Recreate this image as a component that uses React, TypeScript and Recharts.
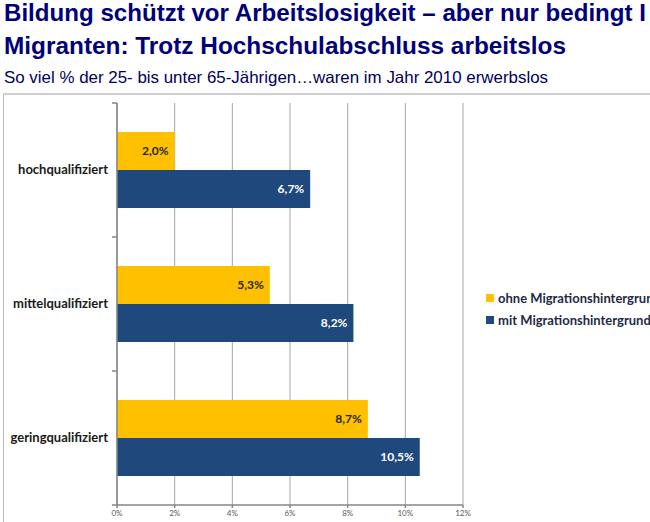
import React from 'react';
import { BarChart, Bar, XAxis, YAxis, CartesianGrid, LabelList } from 'recharts';

const categories = ['hochqualifiziert', 'mittelqualifiziert', 'geringqualifiziert'];
const ohneValues = [2.0, 5.3, 8.7];
const mitValues = [6.7, 8.2, 10.5];
const xTicks = [0, 2, 4, 6, 8, 10, 12];
const seriesNames = ['ohne Migrationshintergrund', 'mit Migrationshintergrund'];
const title1 = 'Bildung schützt vor Arbeitslosigkeit – aber nur bedingt I';
const title2 = 'Migranten: Trotz Hochschulabschluss arbeitslos';
const subtitle = 'So viel % der 25- bis unter 65-Jährigen…waren im Jahr 2010 erwerbslos';

const data = categories.map((c, i) => ({ name: c, ohne: ohneValues[i], mit: mitValues[i] }));

const ORANGE = '#FFC000';
const BLUE = '#1F497D';
const FONT = 'Lato, "Open Sans", sans-serif';

const fmt = (v: any) => `${Number(v).toFixed(1).replace('.', ',')}%`;

const PLOT_TOP = 103;
const PLOT_BOTTOM = 505;
const BAND = (PLOT_BOTTOM - PLOT_TOP) / categories.length;

const CatTick = (props: any) => {
  const { x, y, payload, index } = props;
  return (
    <g>
      <text x={x - 1} y={y} dy={4} textAnchor="end" fontFamily={FONT} fontWeight={700} fontSize={13} fill="#1a1a1a">
        {payload.value}
      </text>
      <line x1={x + 3} x2={x + 8} y1={y - BAND / 2} y2={y - BAND / 2} stroke="#868686" strokeWidth={1.5} />
      {index === categories.length - 1 ? (
        <line x1={x + 3} x2={x + 8} y1={y + BAND / 2} y2={y + BAND / 2} stroke="#868686" strokeWidth={1.5} />
      ) : null}
    </g>
  );
};

export default function App() {
  return (
    <div style={{ position: 'absolute', left: 0, top: 0, width: 650, height: 522, overflow: 'hidden', background: '#fff' }}>
      <svg width={650} height={92} style={{ position: 'absolute', left: 0, top: 0 }}>
        <text x={4} y={21} fontFamily="'Liberation Sans', Arial, sans-serif" fontWeight={700} fontSize={23} fill="#00007A" textLength={642} lengthAdjust="spacingAndGlyphs">
          {title1}
        </text>
        <text x={4} y={54} fontFamily="'Liberation Sans', Arial, sans-serif" fontWeight={700} fontSize={23} fill="#00007A" textLength={562} lengthAdjust="spacingAndGlyphs">
          {title2}
        </text>
        <text x={4} y={83} fontFamily="'Liberation Sans', Arial, sans-serif" fontSize={16.5} fill="#00005A" textLength={544} lengthAdjust="spacingAndGlyphs">
          {subtitle}
        </text>
      </svg>
      <div style={{ position: 'absolute', left: 3, top: 93, width: 660, height: 440, borderTop: '2px solid #cfcfcf', borderLeft: '1px solid #bdbdbd' }} />
      <div style={{ position: 'absolute', left: 0, top: 0 }}>
        <BarChart
          width={650}
          height={522}
          data={data}
          layout="vertical"
          margin={{ top: PLOT_TOP, right: 187, bottom: 0, left: 0 }}
          barGap={0}
        >
          <CartesianGrid horizontal={false} vertical={true} stroke="#a6a6a6" strokeWidth={1} />
          <XAxis
            type="number"
            domain={[0, 12]}
            ticks={xTicks}
            tickFormatter={(v: any) => `${v}%`}
            height={17}
            tickSize={3}
            stroke="#868686"
            strokeWidth={1.5}
            tick={{ fontSize: 8, fill: '#595959', fontFamily: FONT }}
            interval={0}
          />
          <YAxis
            type="category"
            dataKey="name"
            width={117}
            tickLine={false}
            stroke="#868686"
            strokeWidth={1.5}
            tick={<CatTick />}
            interval={0}
          />
          <Bar dataKey="ohne" fill={ORANGE} barSize={38} isAnimationActive={false}>
            <LabelList dataKey="ohne" position="insideRight" offset={6} formatter={fmt} style={{ fontFamily: FONT, fontWeight: 700, fontSize: 12, fill: '#262626' }} />
          </Bar>
          <Bar dataKey="mit" fill={BLUE} barSize={38} isAnimationActive={false}>
            <LabelList dataKey="mit" position="insideRight" offset={6} formatter={fmt} style={{ fontFamily: FONT, fontWeight: 700, fontSize: 12, fill: '#ffffff' }} />
          </Bar>
        </BarChart>
      </div>
      <div style={{ position: 'absolute', left: 486, top: 287, fontFamily: FONT, fontWeight: 700, fontSize: 13, color: '#1F2A44', whiteSpace: 'nowrap' }}>
        {seriesNames.map((n, i) => (
          <div key={n} style={{ display: 'flex', alignItems: 'center', height: 22 }}>
            <span style={{ display: 'inline-block', width: 8, height: 8, background: i === 0 ? ORANGE : BLUE, marginRight: 4 }} />
            <span>{n}</span>
          </div>
        ))}
      </div>
    </div>
  );
}
